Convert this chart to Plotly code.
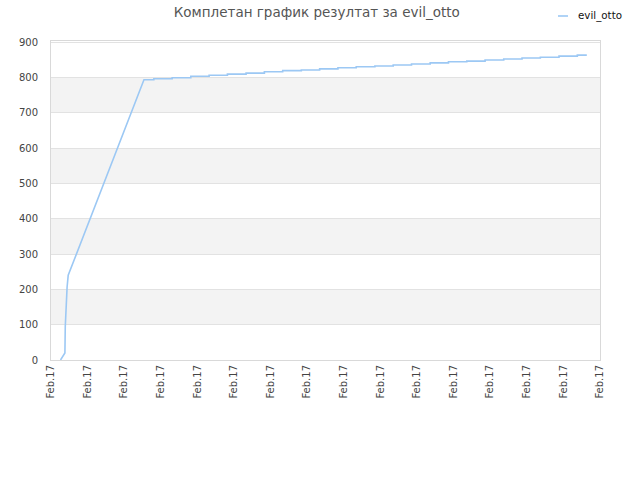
import plotly.graph_objects as go

# Score over time for evil_otto (x in tick units, one tick per label)
ramp_t = [0.26, 0.38, 0.39, 0.41, 0.44, 0.47, 2.54]
ramp_score = [0, 20, 94, 150, 207, 240, 794]

step_t = [2.81, 3.31, 3.82, 4.32, 4.82, 5.33, 5.83, 6.33, 6.84, 7.34, 7.84, 8.34,
          8.85, 9.35, 9.85, 10.36, 10.86, 11.36, 11.86, 12.37, 12.87, 13.37, 13.88, 14.38]
step_score = [797, 800, 804, 807, 810, 813, 817, 820, 822, 825, 828, 831,
              833, 836, 839, 842, 845, 847, 850, 853, 856, 858, 861, 864]
end_t = 14.64

tick_labels = ["Feb.17"] * 16
y_ticks = [0, 100, 200, 300, 400, 500, 600, 700, 800, 900]
line_color = "#9cc8f4"

# build the stepped path: flat until each new score, then jump
xs = list(ramp_t)
ys = list(ramp_score)
prev = ramp_score[-1]
for t, s in zip(step_t, step_score):
    xs += [t, t]
    ys += [prev, s]
    prev = s
xs.append(end_t)
ys.append(prev)

fig = go.Figure()
fig.add_trace(go.Scatter(x=xs, y=ys, mode="lines", name="evil_otto", showlegend=False,
                         line=dict(color=line_color, width=1.6)))

# alternating grey bands
for lo in [100, 300, 500, 700]:
    fig.add_shape(type="rect", xref="paper", yref="y", x0=0, x1=1, y0=lo, y1=lo + 100,
                  fillcolor="#f3f3f3", line_width=0, layer="below")

# small legend in the top right corner
fig.add_shape(type="line", xref="paper", yref="paper", x0=1.0 - 42 / 549, x1=1.0 - 32 / 549,
              y0=1 + 25 / 319, y1=1 + 25 / 319, line=dict(color=line_color, width=1.6))
fig.add_annotation(text="evil_otto", xref="paper", yref="paper", x=1.0 - 24 / 549,
                   y=1 + 25 / 319, xanchor="left", yanchor="middle", showarrow=False,
                   font=dict(size=10.3, color="#111"))

fig.update_layout(
    width=640, height=480,
    margin=dict(l=51, r=40, t=41, b=120, autoexpand=False),
    paper_bgcolor="white", plot_bgcolor="white",
    font=dict(family="DejaVu Sans", size=10, color="#444"),
    title=dict(text="Комплетан график резултат за evil_otto", x=0.495, xanchor="center",
               y=0.975, yanchor="middle", font=dict(size=13.5, color="#555")),
)
fig.update_xaxes(range=[0, 15], tickvals=list(range(16)), ticktext=tick_labels,
                 tickangle=-90, showgrid=False, zeroline=False, ticks="",
                 showline=True, linecolor="#d9d9d9", mirror=True, fixedrange=True)
fig.update_yaxes(range=[0, 904], tickvals=y_ticks, showgrid=True, gridcolor="#e2e2e2",
                 zeroline=False, ticks="", showline=True, linecolor="#d9d9d9",
                 mirror=True, fixedrange=True, ticklabelstandoff=10)

# drop the default page margin so the figure sits at the window corner
fig.write_html("out.html", config={"displayModeBar": False},
               post_script="document.body.style.margin='0';")
